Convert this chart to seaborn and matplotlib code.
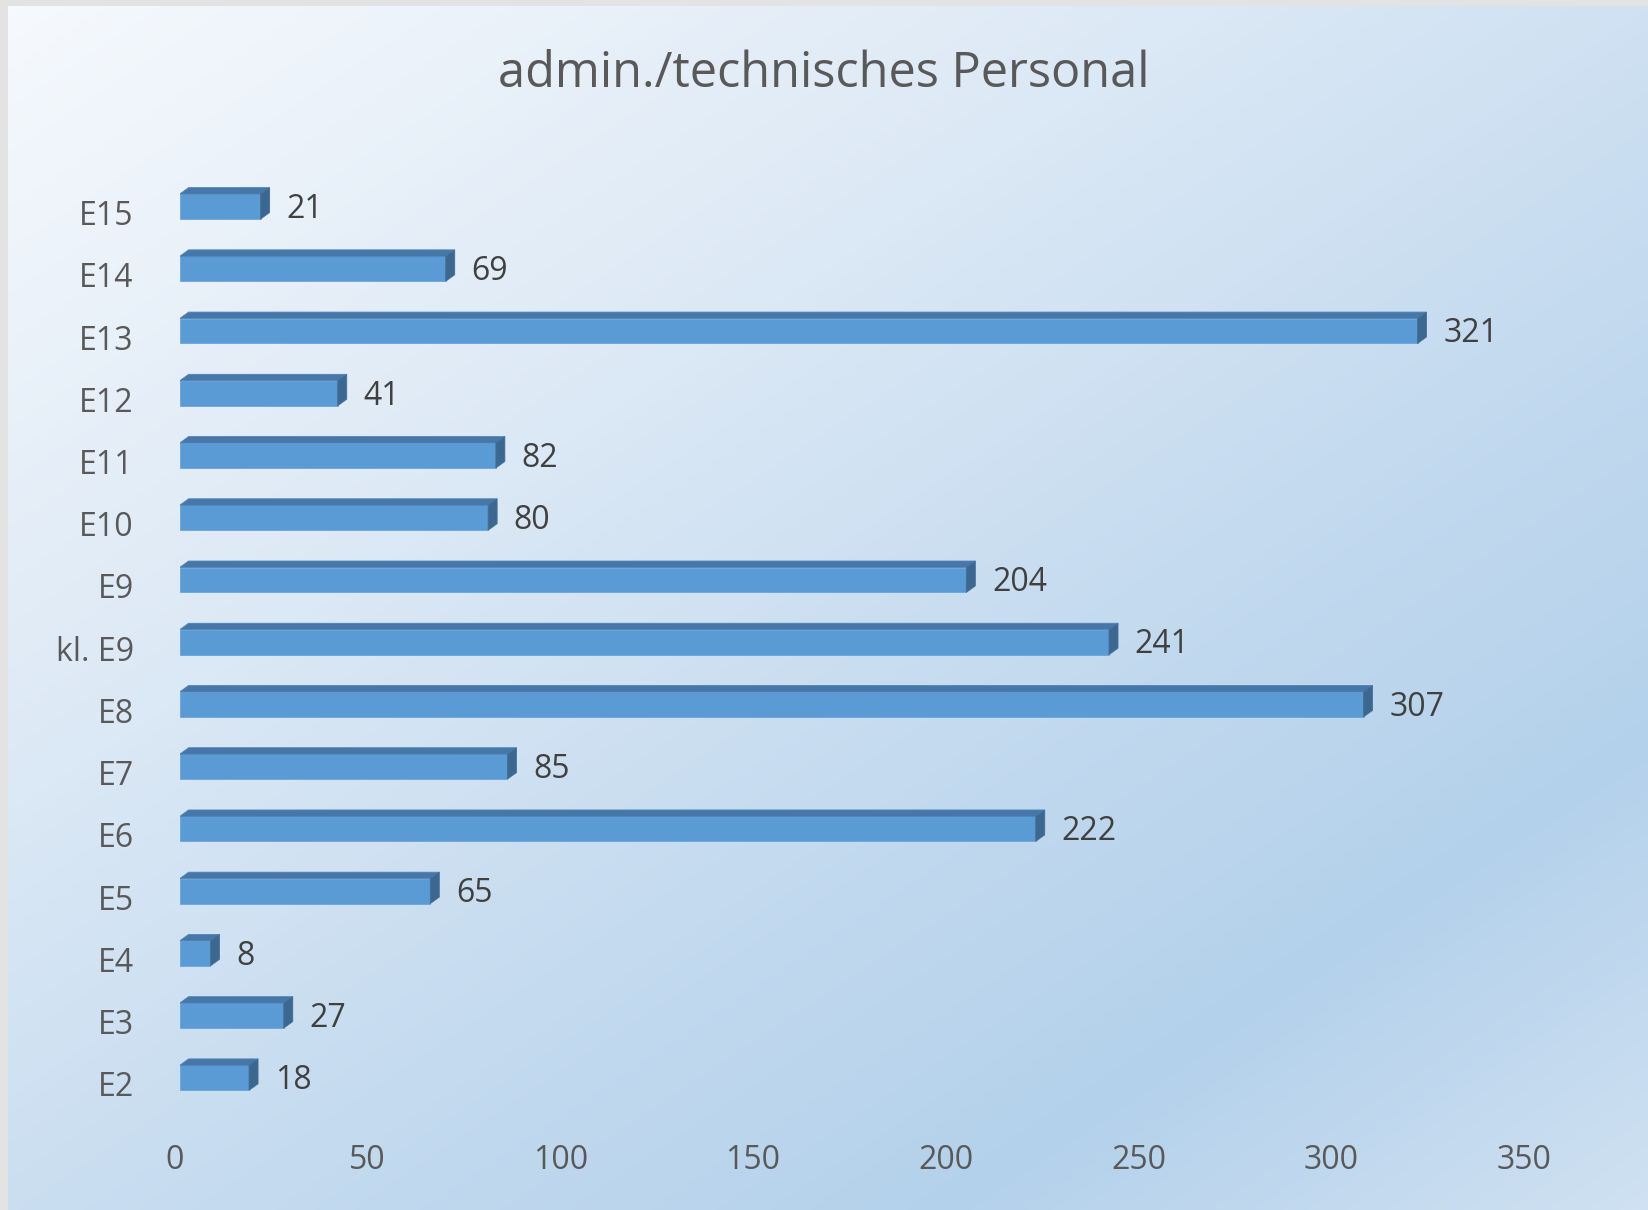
import numpy as np
import pandas as pd
import matplotlib
matplotlib.use("Agg")
import matplotlib.pyplot as plt
import matplotlib.transforms as mtransforms
import seaborn as sns
from matplotlib.patches import Polygon
from matplotlib.colors import LinearSegmentedColormap

categories = ["E15", "E14", "E13", "E12", "E11", "E10", "E9", "kl. E9",
              "E8", "E7", "E6", "E5", "E4", "E3", "E2"]
values = [21, 69, 321, 41, 82, 80, 204, 241, 307, 85, 222, 65, 8, 27, 18]
x_ticks = [0, 50, 100, 150, 200, 250, 300, 350]
title = "admin./technisches Personal"

df = pd.DataFrame({"cat": categories, "val": values})

sns.set_style("white")
plt.rcParams['font.family'] = ['Open Sans', 'DejaVu Sans']

W, H = 1648, 1210
fig = plt.figure(figsize=(W / 100, H / 100), dpi=100, facecolor="#e3e3e3")

# background gradient
bg = fig.add_axes([0.005, 0.0, 0.995, 0.995])
bg.set_axis_off()
yy, xx = np.mgrid[0:1:300j, 0:1:400j]
t = (xx * 0.95 + yy * 1.05) / 2.0
cmap = LinearSegmentedColormap.from_list(
    "bg", [(0.0, "#f6f9fd"), (0.35, "#dbe8f5"), (0.6, "#c3daef"),
           (0.8, "#b4d1eb"), (1.0, "#cfe1f2")])
bg.imshow(t, cmap=cmap, aspect="auto", extent=[0, 1, 0, 1], origin="upper",
          interpolation="bilinear")
bg.set_xlim(0, 1)
bg.set_ylim(0, 1)

ax = fig.add_axes([0.109, 0.0835, 0.819, 0.7715])
ax.patch.set_alpha(0)
sns.barplot(data=df, y="cat", x="val", orient="h", ax=ax, width=0.40,
            color="#5b9bd5", saturation=1, edgecolor="#6aa5da", linewidth=0.6)

ax.set_xlim(0, 350)
ax.set_ylim(len(categories) - 0.5, -0.5)
ax.set_xticks(x_ticks)
ax.set_xticklabels([str(v) for v in x_ticks])
ax.set_xlabel("")
ax.set_ylabel("")
for s in ax.spines.values():
    s.set_visible(False)
ax.tick_params(axis="both", length=0, colors="#595959", labelsize=23)
ax.tick_params(axis="y", pad=33)
ax.tick_params(axis="x", pad=25)

shift_down = mtransforms.ScaledTranslation(0, -6 / 100, fig.dpi_scale_trans)
for lbl in ax.get_yticklabels():
    lbl.set_transform(lbl.get_transform() + shift_down)
shift_left = mtransforms.ScaledTranslation(-5 / 100, 0, fig.dpi_scale_trans)
for lbl in ax.get_xticklabels():
    lbl.set_transform(lbl.get_transform() + shift_left)

# 3D depth faces
ax_w_px = 0.819 * W
ax_h_px = 0.7715 * H
dx = 9.0 / (ax_w_px / 350.0)
dy = 6.5 / (ax_h_px / len(categories))
for p, v in zip(ax.patches, values):
    x0 = p.get_x()
    x1 = x0 + p.get_width()
    ytop = p.get_y()
    ybot = ytop + p.get_height()
    top = Polygon([(x0, ytop), (x0 + dx, ytop - dy), (x1 + dx, ytop - dy), (x1, ytop)],
                  closed=True, facecolor="#4677a8", edgecolor="#4f83b5", linewidth=0.6)
    side = Polygon([(x1, ytop), (x1 + dx, ytop - dy), (x1 + dx, ybot - dy), (x1, ybot)],
                   closed=True, facecolor="#3b6791", edgecolor="#456f99", linewidth=0.6)
    ax.add_patch(top)
    ax.add_patch(side)
    ax.annotate(str(v), xy=(x1 + dx, (ytop + ybot) / 2), xytext=(12, -2),
                textcoords="offset points", va="center", ha="left",
                fontsize=23, color="#404040")

fig.text(0.5, 0.939, title, ha="center", va="center", fontsize=35, color="#595959")

fig.savefig("out.png", dpi=100, facecolor=fig.get_facecolor())
